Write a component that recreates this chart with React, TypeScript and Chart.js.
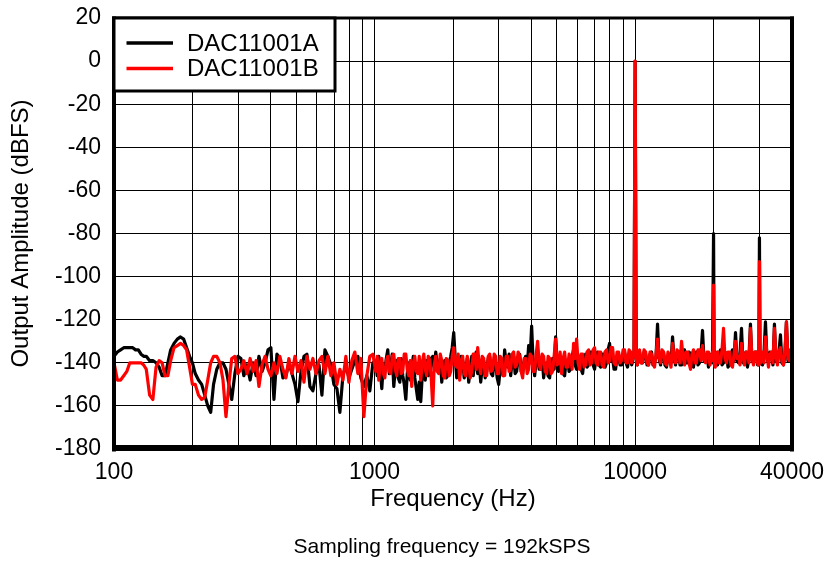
import React, { useEffect, useRef } from 'react';
import { Chart, registerables } from 'chart.js';

Chart.register(...registerables);

const freqHz = [
  100, 103, 106, 109, 112, 115, 118, 121, 124, 127,
  130, 133, 137, 141, 145, 149, 153, 157, 161, 165,
  170, 175, 180, 185, 190, 195, 200, 205, 211, 217,
  223, 229, 235, 241, 248, 255, 262, 269, 276, 283,
  291, 299, 307, 315, 324, 333, 342, 351, 360, 370,
  380, 390, 400, 411, 422, 433, 445, 457, 469, 482,
  495, 508, 522, 536, 550, 565, 580, 596, 612, 628,
  645, 662, 680, 698, 717, 736, 756, 776, 797, 818,
  840, 863, 886, 910, 934, 959, 985,
  1011, 1024, 1038, 1052, 1066, 1080, 1095, 1109, 1124, 1139,
  1154, 1169, 1185, 1201, 1217, 1233, 1250, 1266, 1283, 1300,
  1318, 1335, 1353, 1371, 1389, 1408, 1427, 1446, 1465, 1484,
  1504, 1524, 1545, 1565, 1586, 1607, 1629, 1650, 1672, 1694,
  1717, 1740, 1763, 1787, 1811, 1835, 1859, 1884, 1909, 1934,
  1960, 1986, 2013, 2040, 2067, 2094, 2122, 2150, 2179, 2208,
  2238, 2268, 2298, 2329, 2360, 2391, 2423, 2455, 2488, 2521,
  2555, 2589, 2623, 2658, 2694, 2730, 2766, 2803, 2840, 2878,
  2916, 2955, 2995, 3035, 3075, 3116, 3157, 3199, 3242, 3285,
  3329, 3374, 3419, 3464, 3510, 3557, 3605, 3653, 3701, 3751,
  3801, 3852, 3903, 3955, 4007, 4061, 4115, 4170, 4226, 4282,
  4339, 4397, 4455, 4515, 4575, 4636, 4698, 4761, 4824, 4888,
  4953, 5019, 5086, 5154, 5223, 5293, 5363, 5435, 5507, 5580,
  5655, 5730, 5806, 5884, 5962, 6041, 6122, 6204, 6287, 6370,
  6455, 6541, 6629, 6717, 6807, 6898, 6989, 7083, 7177, 7273,
  7370, 7468, 7567, 7668, 7771, 7874, 7979, 8085, 8193, 8302,
  8413, 8525, 8639, 8754, 8871, 8989, 9109, 9230, 9353, 9478,
  9604, 9700, 9800, 9900, 10000, 10100, 10200, 10300, 10400, 10540,
  10680, 10820, 10970, 11110, 11260, 11410, 11560, 11710, 11870, 12030,
  12190, 12350, 12520, 12680, 12850, 13020, 13200, 13370, 13550, 13730,
  13920, 14100, 14290, 14480, 14670, 14870, 15070, 15270, 15470, 15680,
  15890, 16100, 16310, 16530, 16750, 16970, 17200, 17430, 17660, 17900,
  18140, 18380, 18620, 18870, 19120, 19380, 19640, 19800, 19900, 20000,
  20100, 20200, 20300, 20500, 20710, 20990, 21270, 21550, 21840, 22130,
  22420, 22720, 23020, 23330, 23640, 23960, 24280, 24600, 24930, 25260,
  25600, 25940, 26280, 26630, 26990, 27350, 27710, 28080, 28460, 28840,
  29220, 29500, 29700, 29850, 30000, 30150, 30300, 30550, 30810, 31220,
  31640, 32060, 32490, 32920, 33360, 33800, 34250, 34710, 35170, 35640,
  36120, 36600, 37090, 37580, 38080, 38590, 39100, 39550, 40000,
];

const dacA = [
  -137, -135, -134, -133, -133, -133, -133, -134, -134, -136,
  -137, -137, -139, -139, -140, -142, -146, -146, -140, -134,
  -131, -129, -128, -129, -133, -137, -140, -145, -148, -150,
  -155, -160, -163, -150, -143, -140, -140, -143, -150, -157,
  -145, -137, -138, -146, -141, -148, -140, -146, -137, -144,
  -140, -134, -133, -157, -136, -138, -147, -146, -140, -145,
  -150, -158, -144, -137, -136, -151, -153, -145, -141, -155,
  -134, -137, -141, -150, -152, -163, -146, -141, -147, -143,
  -139, -137, -147, -151, -146, -153, -140,
  -139, -146, -137, -143, -152, -141, -144, -138, -134, -145,
  -141, -136, -151, -143, -139, -147, -149, -138, -146, -150,
  -157, -145, -140, -148, -143, -137, -147, -152, -157, -149,
  -158, -146, -142, -148, -139, -146, -145, -138, -137, -143,
  -135, -141, -144, -138, -149, -142, -139, -147, -146, -140,
  -137, -133, -126, -138, -147, -141, -146, -137, -139, -147,
  -145, -138, -149, -143, -137, -146, -140, -135, -145, -140,
  -149, -142, -139, -147, -144, -138, -137, -145, -146, -139,
  -140, -147, -150, -143, -139, -146, -134, -140, -142, -136,
  -146, -139, -137, -145, -144, -138, -136, -144, -145, -139,
  -137, -142, -132, -138, -123, -140, -146, -139, -134, -143,
  -143, -137, -147, -141, -140, -146, -147, -140, -138, -143,
  -128, -139, -144, -137, -139, -145, -146, -139, -139, -144,
  -143, -137, -134, -141, -143, -137, -137, -143, -145, -138,
  -136, -142, -141, -135, -135, -141, -143, -137, -135, -141,
  -142, -136, -136, -142, -140, -134, -131, -139, -138, -143,
  -143, -137, -136, -141, -141, -136, -135, -140, -142, -137,
  -136, -141, -139, -135, 0, -137, -141, -136, -135, -140,
  -140, -135, -136, -141, -141, -136, -135, -141, -140, -137,
  -122, -138, -141, -136, -135, -141, -142, -137, -136, -140,
  -128, -138, -141, -136, -135, -141, -141, -136, -134, -140,
  -140, -135, -136, -141, -142, -136, -135, -141, -140, -136,
  -125, -139, -138, -136, -142, -137, -136, -140, -140, -80,
  -139, -136, -135, -140, -141, -136, -134, -141, -140, -135,
  -136, -142, -141, -136, -134, -139, -126, -139, -140, -136,
  -124, -140, -137, -135, -142, -137, -122, -139, -139, -135,
  -135, -141, -141, -137, -82, -136, -137, -140, -141, -136,
  -121, -138, -140, -135, -136, -141, -122, -139, -140, -135,
  -127, -140, -141, -136, -121, -139, -138, -134, -135,
];

const dacB = [
  -140, -148, -148, -146, -144, -140, -140, -140, -140, -140,
  -141, -143, -155, -157, -142, -139, -140, -146, -146, -139,
  -133, -132, -131, -132, -134, -142, -150, -150, -155, -157,
  -156, -148, -140, -137, -137, -140, -148, -165, -150, -138,
  -137, -145, -143, -139, -145, -138, -144, -139, -151, -141,
  -137, -143, -146, -140, -145, -137, -143, -147, -138, -145,
  -137, -144, -139, -149, -137, -143, -138, -145, -139, -137,
  -145, -137, -146, -140, -150, -143, -148, -137, -149, -139,
  -135, -145, -138, -165, -146, -137, -136,
  -144, -137, -148, -140, -138, -145, -147, -139, -137, -144,
  -145, -137, -136, -143, -146, -138, -138, -145, -144, -136,
  -136, -143, -146, -139, -151, -140, -137, -144, -145, -137,
  -148, -140, -136, -143, -146, -137, -139, -147, -160, -141,
  -137, -144, -145, -136, -139, -146, -147, -138, -139, -146,
  -144, -137, -133, -141, -142, -136, -148, -139, -137, -145,
  -146, -137, -140, -147, -144, -136, -136, -143, -133, -141,
  -145, -137, -138, -146, -146, -137, -136, -144, -143, -136,
  -137, -145, -145, -137, -138, -146, -146, -137, -137, -144,
  -143, -136, -135, -142, -141, -135, -137, -144, -147, -138,
  -138, -145, -143, -136, -137, -144, -144, -136, -130, -141,
  -143, -136, -137, -144, -145, -137, -138, -145, -144, -137,
  -129, -141, -140, -135, -145, -138, -135, -142, -142, -136,
  -138, -143, -131, -138, -129, -140, -143, -136, -136, -142,
  -141, -135, -134, -141, -140, -134, -133, -140, -141, -135,
  -135, -141, -142, -135, -134, -140, -139, -133, -133, -140,
  -141, -135, -135, -140, -139, -134, -134, -140, -140, -134,
  -135, -140, -138, -134, 0, -138, -141, -135, -134, -140,
  -140, -134, -135, -140, -141, -135, -136, -140, -142, -136,
  -129, -137, -140, -134, -135, -140, -141, -135, -138, -142,
  -131, -137, -140, -134, -135, -140, -130, -137, -141, -135,
  -135, -140, -143, -136, -134, -140, -140, -134, -134, -139,
  -132, -138, -140, -135, -135, -141, -137, -135, -139, -104,
  -138, -141, -142, -136, -135, -140, -140, -134, -124, -138,
  -140, -135, -135, -141, -142, -136, -130, -138, -137, -141,
  -131, -137, -141, -135, -135, -140, -124, -138, -141, -135,
  -135, -140, -141, -136, -93, -137, -140, -135, -135, -140,
  -128, -136, -142, -136, -135, -140, -124, -137, -141, -135,
  -133, -139, -141, -135, -121, -138, -139, -134, -135,
];

const xGridValues = [
  100, 200, 300, 400, 500, 600, 700, 800, 900,
  1000, 2000, 3000, 4000, 5000, 6000, 7000, 8000, 9000,
  10000, 20000, 30000, 40000,
];
const xLabelValues = [100, 1000, 10000, 40000];
const yMin = -180;
const yMax = 20;
const yStep = 20;

const seriesNames = ['DAC11001A', 'DAC11001B'];
const seriesColors = ['#000000', '#ff0000'];
const xTitle = 'Frequency (Hz)';
const yTitle = 'Output Amplitude (dBFS)';
const footnote = 'Sampling frequency = 192kSPS';

const FONT = '"Liberation Sans", Arial, Helvetica, sans-serif';

const decorPlugin = {
  id: 'decor',
  afterDatasetsDraw(chart: any) {
    const ctx = chart.ctx;
    const { left, right, top, bottom } = chart.chartArea;
    ctx.save();
    // frame
    ctx.fillStyle = '#000';
    ctx.fillRect(left - 2, top - 1.5, right - left + 4, 3);
    ctx.fillRect(left - 2, top - 1.5, 4, bottom - top + 4);
    ctx.fillRect(right - 2, top - 1.5, 4, bottom - top + 4);
    ctx.fillRect(left - 2, bottom - 4, right - left + 4, 6);
    // legend
    const lx = left;
    const ly = top;
    const lw = 221;
    const lh = 73;
    ctx.fillStyle = '#fff';
    ctx.fillRect(lx, ly, lw, lh);
    ctx.lineWidth = 3;
    ctx.strokeStyle = '#000';
    ctx.strokeRect(lx, ly, lw, lh);
    const rows = [25, 50.5];
    seriesNames.forEach((name, i) => {
      ctx.beginPath();
      ctx.strokeStyle = seriesColors[i];
      ctx.lineWidth = 3.5;
      ctx.moveTo(lx + 12.5, ly + rows[i]);
      ctx.lineTo(lx + 59, ly + rows[i]);
      ctx.stroke();
      ctx.fillStyle = '#000';
      ctx.font = '24px ' + FONT;
      ctx.textAlign = 'left';
      ctx.textBaseline = 'middle';
      ctx.fillText(name, lx + 73, ly + rows[i] + 1);
    });
    ctx.restore();
  },
  afterDraw(chart: any) {
    const ctx = chart.ctx;
    ctx.save();
    ctx.fillStyle = '#000';
    ctx.font = '21px ' + FONT;
    ctx.textAlign = 'center';
    ctx.textBaseline = 'middle';
    ctx.fillText(footnote, 442, 547);
    ctx.restore();
  },
};

export default function App() {
  const canvasRef = useRef<HTMLCanvasElement | null>(null);

  useEffect(() => {
    if (!canvasRef.current) return;
    const datasets = [dacA, dacB].map((vals, i) => ({
      label: seriesNames[i],
      data: freqHz.map((f, j) => ({ x: f, y: vals[j] })),
      borderColor: seriesColors[i],
      backgroundColor: seriesColors[i],
      borderWidth: 3.2,
      pointRadius: 0,
      tension: 0,
      fill: false,
      borderJoinStyle: 'round' as const,
      order: i === 0 ? 2 : 1,
    }));

    const chart = new Chart(canvasRef.current, {
      type: 'line',
      data: { datasets },
      plugins: [decorPlugin],
      options: {
        responsive: false,
        animation: false,
        devicePixelRatio: 1,
        layout: { padding: { top: 18, right: 37, bottom: 0, left: 0 } },
        plugins: {
          legend: { display: false },
          tooltip: { enabled: false },
          title: { display: false },
        },
        scales: {
          x: {
            type: 'logarithmic',
            min: 100,
            max: 40000,
            afterBuildTicks: (scale: any) => {
              scale.ticks = xGridValues.map((v) => ({ value: v }));
            },
            afterFit: (scale: any) => {
              scale.height = 112;
              scale.paddingLeft = 0;
              scale.paddingRight = 0;
            },
            grid: { color: '#000', lineWidth: 1, drawTicks: false },
            border: { display: false },
            ticks: {
              autoSkip: false,
              maxRotation: 0,
              minRotation: 0,
              padding: 10,
              color: '#000',
              font: { family: FONT, size: 23 },
              callback: (v: any) => (xLabelValues.includes(Number(v)) ? String(v) : ''),
            },
            title: {
              display: true,
              text: xTitle,
              color: '#000',
              font: { family: FONT, size: 24 },
              padding: { top: 0, bottom: 47 },
            },
          },
          y: {
            type: 'linear',
            min: yMin,
            max: yMax,
            afterFit: (scale: any) => {
              scale.width = 114;
              scale.paddingTop = 0;
              scale.paddingBottom = 0;
            },
            grid: { color: '#000', lineWidth: 1, drawTicks: false },
            border: { display: false },
            ticks: {
              stepSize: yStep,
              padding: 13,
              color: '#000',
              font: { family: FONT, size: 23 },
            },
            title: {
              display: true,
              text: yTitle,
              color: '#000',
              font: { family: FONT, size: 24 },
              padding: { top: 7, bottom: 0 },
            },
          },
        },
      } as any,
    });
    return () => chart.destroy();
  }, []);

  return (
    <div style={{ position: 'absolute', left: 0, top: 0, width: 829, height: 561, background: '#fff' }}>
      <canvas ref={canvasRef} width={829} height={561} style={{ display: 'block' }} />
    </div>
  );
}
